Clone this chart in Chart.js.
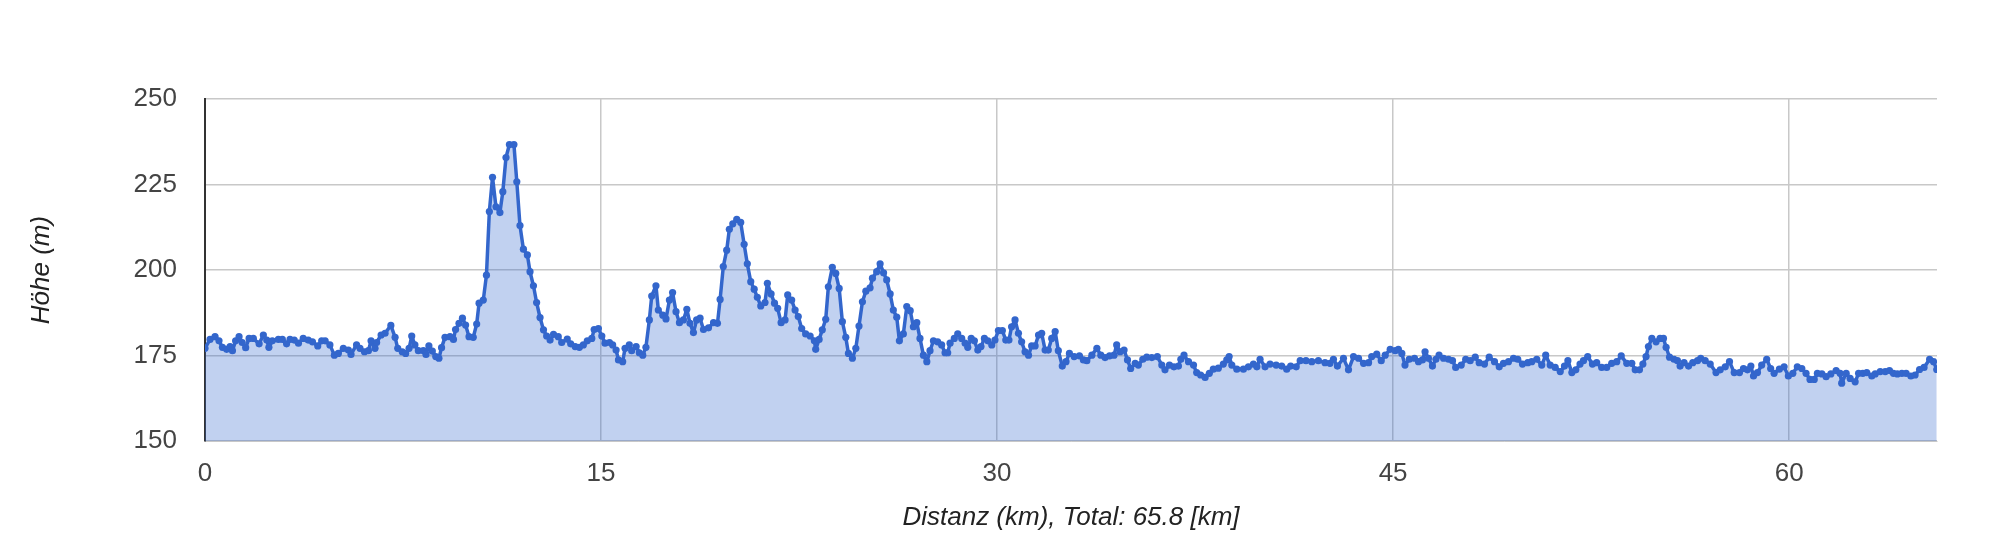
<!DOCTYPE html>
<html>
<head>
<meta charset="utf-8">
<title>Höhenprofil</title>
<script src="https://cdn.jsdelivr.net/npm/chart.js@4.4.1/dist/chart.umd.min.js"></script>
<style>
  body { margin: 0; background: #fff; }
  #profileChart { display: block; }
</style>
</head>
<body>
<canvas id="profileChart" width="1997" height="544" style="width:1997px;height:544px"></canvas>
<script>
// distance along the route (km)
const distance_km = [
  0.00,0.19,0.38,0.53,0.66,0.82,0.95,1.04,1.16,1.29,
  1.41,1.54,1.67,1.83,2.05,2.21,2.34,2.42,2.55,2.78,
  2.93,3.09,3.22,3.38,3.54,3.72,3.91,4.07,4.27,4.42,
  4.55,4.73,4.90,5.05,5.24,5.43,5.53,5.74,5.87,6.04,
  6.19,6.29,6.44,6.50,6.67,6.82,7.04,7.20,7.30,7.47,
  7.60,7.73,7.83,7.95,8.08,8.27,8.37,8.48,8.61,8.74,
  8.86,8.96,9.09,9.28,9.41,9.49,9.62,9.75,9.87,10.00,
  10.16,10.29,10.38,10.54,10.66,10.77,10.89,
  11.02,11.17,11.28,11.40,11.53,11.70,11.81,11.93,12.06,12.21,
  12.31,12.44,12.56,12.69,12.82,12.94,13.07,13.20,13.38,13.51,
  13.72,13.85,14.02,14.18,14.33,14.48,14.65,14.74,14.90,15.03,
  15.15,15.32,15.44,15.57,15.66,15.82,15.91,16.07,16.16,16.33,
  16.45,16.58,16.70,16.83,16.92,17.08,17.17,17.34,17.46,17.59,
  17.71,17.84,17.97,18.12,18.25,18.37,18.50,18.62,18.75,18.88,
  19.07,19.26,19.41,19.51,19.63,19.76,19.86,19.99,20.14,20.29,
  20.42,20.54,20.67,20.80,20.92,21.05,21.21,21.30,
  21.44,21.57,21.69,21.82,21.97,22.07,22.22,22.35,22.47,22.60,
  22.75,22.92,23.08,23.13,23.26,23.38,23.51,23.61,23.76,23.89,
  24.02,24.14,24.27,24.37,24.52,24.65,24.77,24.90,25.03,25.19,
  25.28,25.44,25.57,25.70,25.82,25.95,26.07,26.20,26.30,26.45,
  26.58,26.71,26.83,26.96,27.08,27.21,27.34,27.46,27.59,27.75,
  27.90,28.03,28.13,28.22,28.38,28.51,28.66,28.79,28.89,29.02,
  29.14,29.27,29.39,29.52,29.65,29.80,29.92,30.05,30.20,30.33,
  30.45,30.55,30.68,30.81,30.93,31.06,31.19,31.31,31.44,31.57,
  31.69,31.82,31.94,32.07,32.20,32.32,32.47,
  32.61,32.74,32.92,33.12,33.27,33.40,33.59,33.78,33.93,34.09,
  34.26,34.43,34.53,34.66,34.81,34.94,35.06,35.23,35.35,35.52,
  35.67,35.86,36.07,36.24,36.36,36.53,36.70,36.87,36.96,37.08,
  37.25,37.44,37.56,37.71,37.88,38.04,38.19,38.38,38.57,38.70,
  38.79,38.89,39.08,39.33,39.52,39.71,39.84,39.96,40.15,40.34,
  40.57,40.78,40.97,41.12,41.33,41.48,41.70,41.92,42.17,42.42,
  42.61,42.74,42.89,43.12,43.31,
  43.50,43.69,43.88,44.07,44.19,44.38,44.55,44.70,44.89,45.08,
  45.20,45.33,45.45,45.61,45.81,45.96,46.11,46.21,46.34,46.49,
  46.62,46.74,46.91,47.10,47.25,47.37,47.58,47.75,47.92,48.11,
  48.26,48.46,48.64,48.84,49.02,49.18,49.37,49.56,49.72,49.90,
  50.10,50.25,50.44,50.63,50.78,50.95,51.14,51.33,51.49,51.62,
  51.77,51.92,52.08,52.21,52.37,52.55,52.71,52.90,53.09,53.28,
  53.47,53.64,
  53.85,54.04,54.17,54.33,54.46,54.58,54.67,54.80,54.96,55.11,
  55.24,55.34,55.47,55.64,55.77,55.87,56.02,56.19,56.35,56.53,
  56.65,56.82,57.01,57.23,57.39,57.58,57.74,57.92,58.12,58.27,
  58.42,58.55,58.65,58.80,58.96,59.15,59.30,59.43,59.63,59.81,
  59.97,60.14,60.31,60.48,60.64,60.79,60.95,61.07,61.24,61.40,
  61.58,61.78,61.93,61.99,62.16,62.31,62.50,62.63,62.79,62.94,
  63.13,63.26,63.45,63.64,63.80,63.95,64.10,64.27,64.43,64.61,
  64.77,64.94,65.11,65.32,65.47,65.59
]

// elevation (m) for each distance above
const elevation_m = [
  177.1,179.7,180.5,179.3,177.4,176.8,177.6,176.4,179.3,180.5,
  178.8,177.3,180.0,180.0,178.4,181.0,179.5,177.4,179.3,179.7,
  179.7,178.4,179.7,179.5,178.6,180.0,179.5,179.0,177.8,179.3,
  179.3,178.1,175.1,175.6,177.1,176.6,175.3,178.1,177.1,176.1,
  176.4,179.3,177.1,178.8,181.0,181.5,183.8,180.3,177.1,176.1,
  175.6,177.1,180.7,178.1,176.4,176.4,175.3,177.8,176.3,174.7,
  174.2,177.3,180.3,180.5,179.7,182.6,184.4,185.9,183.9,180.5,
  180.3,184.2,190.3,191.2,198.5,217.1,227.1,
  218.5,216.8,222.9,232.9,236.7,236.7,225.8,213.0,206.1,204.4,
  199.5,195.4,190.5,186.1,182.5,180.7,179.5,181.2,180.5,178.8,
  179.8,178.4,177.6,177.4,178.1,179.3,180.0,182.6,182.9,180.7,
  178.6,178.8,178.1,176.6,173.7,173.2,177.1,178.1,176.4,177.6,
  175.8,175.1,177.4,185.4,192.4,195.4,188.3,186.8,185.7,191.2,
  193.4,187.8,184.6,185.4,188.5,184.4,181.7,185.4,185.9,182.6,
  183.1,184.6,184.4,191.4,201.0,205.8,211.9,213.5,214.8,213.9,
  207.5,201.8,196.6,194.4,192.0,189.5,190.5,196.1,
  193.0,190.3,188.8,184.6,185.4,192.7,191.2,188.3,186.4,182.9,
  181.3,180.7,179.3,176.8,179.7,182.5,185.6,195.1,200.8,199.0,
  194.6,184.9,180.3,175.6,174.2,177.1,183.6,190.7,193.8,194.8,
  197.6,199.5,201.8,199.2,197.1,193.0,188.3,186.2,179.3,181.3,
  189.3,188.1,183.4,184.6,180.0,175.1,173.2,176.4,179.3,179.0,
  178.1,175.8,175.8,178.6,180.0,181.3,180.0,178.6,177.4,180.0,
  179.3,176.6,177.6,180.0,179.3,178.1,179.5,182.3,182.3,179.5,
  179.5,183.4,185.4,181.5,179.0,176.1,175.1,177.8,177.8,181.0,
  181.5,176.6,176.6,180.0,182.0,176.4,171.9,
  173.2,175.6,174.7,174.9,173.7,173.5,175.1,177.1,175.1,174.4,
  174.9,175.1,178.1,176.1,176.6,173.7,171.2,172.7,172.2,173.9,
  174.5,174.4,174.7,172.2,170.8,172.2,171.7,171.9,173.9,175.1,
  173.2,172.2,170.0,169.3,168.6,169.8,171.0,171.3,172.5,173.7,
  174.7,172.2,171.0,171.0,171.7,172.5,171.7,173.9,171.7,172.5,
  172.2,171.9,171.0,171.9,171.7,173.5,173.5,173.2,173.5,172.9,
  172.7,173.9,171.9,174.2,170.8,
  174.7,174.2,172.7,172.9,174.7,175.4,173.5,175.1,176.8,176.4,
  176.8,175.6,172.2,173.9,174.2,173.2,173.7,176.1,174.2,171.9,
  173.9,175.1,174.2,173.9,173.5,171.5,172.2,173.9,173.5,174.5,
  172.9,172.5,174.5,173.2,171.7,172.7,173.2,174.2,173.9,172.5,
  172.9,173.2,173.9,172.2,175.1,172.2,171.5,170.3,171.9,173.5,
  170.0,170.8,172.5,173.5,174.7,172.5,172.9,171.5,171.5,172.7,
  173.2,174.9,
  172.7,172.7,170.8,170.8,172.5,174.7,177.6,180.0,179.0,180.0,
  180.0,177.4,174.5,173.9,173.5,171.9,172.9,171.9,172.9,173.5,
  174.2,173.5,172.5,170.0,170.8,171.7,173.2,170.0,170.0,171.2,
  170.8,171.9,169.0,170.0,172.2,173.9,171.2,169.8,171.0,171.7,
  169.0,169.8,171.7,171.2,169.8,168.0,168.0,169.8,169.6,168.8,
  169.6,170.6,169.8,166.9,169.8,168.3,167.3,169.8,169.8,170.0,
  169.0,169.6,170.3,170.3,170.6,169.8,169.6,169.8,169.8,169.0,
  169.3,170.9,171.5,173.9,173.2,170.9
]

const y_ticks = [150, 175, 200, 225, 250]
const x_ticks = [0, 15, 30, 45, 60]
const x_title = 'Distanz (km), Total: 65.8 [km]'
const y_title = 'Höhe (m)'

const points = distance_km.map((km, i) => ({ x: km, y: elevation_m[i] }))

Chart.defaults.font.family = '"Liberation Sans", Arial, sans-serif'

const ctx = document.getElementById('profileChart').getContext('2d')

const chart = new Chart(ctx, {
  type: 'line',
  data: {
    datasets: [
      {
        label: y_title,
        data: points,
        borderColor: '#3366cc',
        backgroundColor: 'rgba(51, 102, 204, 0.3)',
        borderWidth: 3.5,
        borderJoinStyle: 'round',
        pointRadius: 3.6,
        pointBorderWidth: 0,
        pointBackgroundColor: '#3366cc',
        fill: 'origin',
        tension: 0
      }
    ]
  },
  options: {
    responsive: false,
    animation: false,
    devicePixelRatio: 1,
    layout: {
      padding: { top: 99, right: 60, bottom: 0, left: 0 }
    },
    plugins: {
      legend: { display: false },
      tooltip: { enabled: false }
    },
    scales: {
      x: {
        type: 'linear',
        min: 0,
        max: 65.6,
        afterFit: scale => { scale.height = 103 },
        afterBuildTicks: scale => { scale.ticks = x_ticks.map(v => ({ value: v })) },
        grid: { color: '#c8c8c8', lineWidth: 1.5, drawTicks: false },
        border: { color: '#c8c8c8', width: 1 },
        ticks: {
          padding: 17,
          color: '#444444',
          font: { size: 26 }
        },
        title: {
          display: true,
          text: x_title,
          color: '#222222',
          font: { size: 26, style: 'italic' },
          padding: { top: 0, bottom: 11 }
        }
      },
      y: {
        min: 150,
        max: 250,
        afterFit: scale => { scale.width = 205 },
        afterBuildTicks: scale => { scale.ticks = y_ticks.map(v => ({ value: v })) },
        grid: { color: '#c8c8c8', lineWidth: 1.5, drawTicks: false },
        border: { color: '#333333', width: 2 },
        ticks: {
          padding: 28,
          color: '#444444',
          font: { size: 26 }
        },
        title: {
          display: true,
          text: y_title,
          color: '#222222',
          font: { size: 26, style: 'italic' },
          padding: { top: 26, bottom: 0 }
        }
      }
    }
  }
})
</script>
</body>
</html>
